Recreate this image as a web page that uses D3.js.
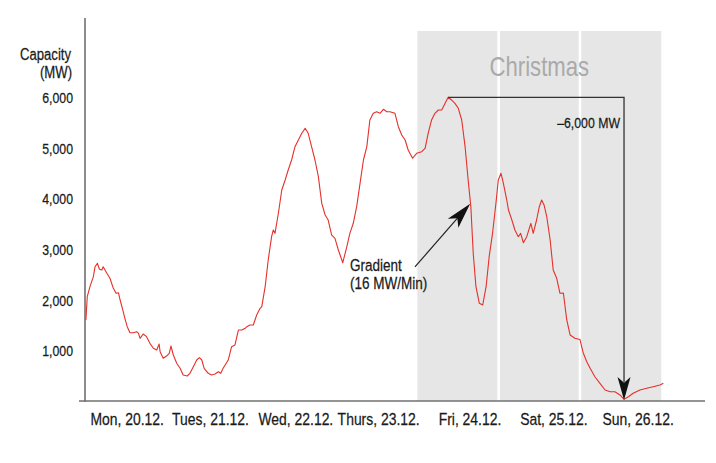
<!DOCTYPE html>
<html><head><meta charset="utf-8">
<script src="https://cdn.jsdelivr.net/npm/d3@7"></script>
<style>
body{margin:0;background:#fff;}
svg text{font-family:"Liberation Sans",Arial,sans-serif;fill:#1a1a1a;}
</style></head>
<body><svg id="c" width="716" height="463"></svg>
<script>
// ---- data (hours since Mon 20.12. 00:00, capacity in MW) ----
const dayLabels = ["Mon, 20.12.","Tues, 21.12.","Wed, 22.12.","Thurs, 23.12.","Fri, 24.12.","Sat, 25.12.","Sun, 26.12."];
const yTicks = [1000,2000,3000,4000,5000,6000];
const hours = [-1.8,-1.4,-0.6,0.4,0.9,1.6,2.2,2.9,3.3,4.3,5.3,6.3,7.1,7.8,8.3,9.1,9.7,10.4,11.2,12.2,13.2,13.7,14.2,15.1,16.1,17.1,18.1,19.1,19.8,20.1,21.0,22.0,22.8,23.3,24.0,25.0,26.0,26.9,28.1,28.9,29.9,30.9,31.7,32.4,33.1,34.3,35.3,36.3,37.3,38.0,38.7,40.2,41.2,42.2,43.2,44.2,45.2,45.7,46.6,47.6,48.6,49.6,
50.1,51.1,52.0,53.0,53.5,54.0,55.0,56.0,57.0,57.9,58.9,59.9,60.9,61.9,62.9,63.8,64.8,65.8,66.8,67.8,68.8,69.7,70.7,71.7,72.7,74.0,75.2,76.1,77.1,78.1,79.1,80.1,81.1,82.0,83.0,84.0,85.0,86.0,87.0,87.9,89.4,90.4,91.4,92.4,93.3,94.6,
95.8,97.3,98.3,99.2,100.2,101.2,102.2,103.2,104.2,105.1,106.1,107.1,108.1,109.1,110.1,111.0,111.8,112.5,113.3,114.3,115.3,116.3,117.2,118.2,119.2,119.9,120.7,121.4,122.4,122.9,123.9,124.8,125.8,126.5,127.3,128.3,129.5,130.2,131.2,132.0,132.7,133.4,134.2,135.2,136.1,137.1,138.1,139.1,140.1,141.1,142.5,144.0,145.0,146.0,147.0,148.4,149.9,151.4,152.9,154.3,155.8,157.0,158.3,159.7,161.7,163.7,165.6,167.6,168.6];
const capacityMW = [1601,2061,2259,2457,2654,2721,2603,2589,2654,2536,2425,2227,2128,2140,1996,1798,1634,1468,1350,1350,1370,1338,1239,1324,1271,1140,1042,1008,1126,974,844,889,943,1087,909,745,646,514,494,547,678,810,856,810,646,547,514,534,579,547,646,810,1073,1107,1403,1403,1437,1468,1502,1502,1700,1832,
1864,2259,2787,3247,3380,3314,3710,4170,4368,4565,4763,5026,5158,5291,5389,5291,5026,4763,4433,3907,3676,3577,3281,3215,2984,2733,3049,3314,3512,3840,4302,4763,5026,5553,5686,5717,5686,5765,5717,5717,5686,5421,5257,5158,4961,4797,
4895,4927,4994,5291,5553,5686,5751,5751,5883,6002,5949,5883,5785,5553,5026,4368,3840,2919,2259,1931,1897,2259,2852,3314,3907,4368,4500,4302,3972,3775,3577,3380,3247,3314,3128,3247,3512,3314,3577,3840,3972,3874,3642,3182,2589,2431,2128,2134,1601,1304,1239,1215,943,777,646,480,350,217,184,184,119,34,85,152,217,251,283,316,350];
const christmasDays = [4,5,6]; // Fri, Sat, Sun
const dropMW = -6000;
const gradientText = ["Gradient","(16 MW/Min)"];

const SX = 0.82; // horizontal condensing of the font
const svg = d3.select("#c");
const x = d3.scaleLinear().domain([0,168]).range([92,661.3]);
const y = d3.scaleLinear().domain([0,6000]).range([401,97.4]);

function label(px, py, str, size, anchor, color){
  return svg.append("text").attr("transform",`translate(${px},${py}) scale(${SX},1)`)
    .attr("text-anchor",anchor||"start").style("font-size",size+"px")
    .style("fill",color||"#1a1a1a").style("stroke",color||"#1a1a1a").style("stroke-width",0.25)
    .text(str);
}

// Christmas shading
svg.append("g").selectAll("rect").data(christmasDays).join("rect")
  .attr("x", d=>x(d*24)).attr("width", d=>x(d*24+24)-x(d*24))
  .attr("y", 31).attr("height", 401-31).attr("fill","#e6e6e6");
svg.append("g").selectAll("line").data(christmasDays.slice(1)).join("line")
  .attr("x1", d=>x(d*24)).attr("x2", d=>x(d*24)).attr("y1",31).attr("y2",401)
  .attr("stroke","#fff").attr("stroke-width",2.5);
label((x(96)+x(168))/2, 76, "Christmas", 27, "middle", "#aaaaaa").style("stroke","none");

// axes
svg.append("line").attr("x1",85).attr("x2",85).attr("y1",18).attr("y2",402)
  .attr("stroke","#707070").attr("stroke-width",1.6);
svg.append("line").attr("x1",79).attr("x2",705).attr("y1",401).attr("y2",401)
  .attr("stroke","#707070").attr("stroke-width",1.6);

const yAxis = d3.axisLeft(y).tickValues(yTicks).tickFormat(d3.format(",")).tickSize(0).tickPadding(0);
const gy = svg.append("g").attr("transform","translate(73,0)").call(yAxis);
gy.select(".domain").remove();
gy.selectAll("text").attr("x",0).style("font-size","15px").style("fill","#1a1a1a")
  .style("stroke","#1a1a1a").style("stroke-width",0.25).attr("dy","0.35em")
  .attr("transform",`scale(${SX},1)`);

label(71, 60, "Capacity", 16, "end");
label(72, 78, "(MW)", 16, "end");

// day labels
const labelShift = [-6,-4,0,1.5,11.5,14,17];
const xAxis = d3.axisBottom(x).tickValues(d3.range(7).map(i=>i*24+12))
  .tickFormat((d,i)=>dayLabels[i]).tickSize(0).tickPadding(0);
const gx = svg.append("g").attr("transform","translate(0,413)").call(xAxis);
gx.select(".domain").remove();
gx.selectAll("text").style("font-size","17px").style("fill","#1a1a1a")
  .style("stroke","#1a1a1a").style("stroke-width",0.25)
  .attr("dx",(d,i)=>labelShift[i]/SX).attr("dy","0.71em").attr("transform",`scale(${SX},1)`);

// series
const pts = hours.map((h,i)=>[h,capacityMW[i]]);
svg.append("path").datum(pts)
  .attr("d", d3.line().x(d=>x(d[0])).y(d=>y(d[1])))
  .attr("fill","none").attr("stroke","#e4312b").attr("stroke-width",1.1).attr("stroke-linejoin","round");

// -6000 MW annotation
const peakH = 105.1, lowH = 157.0;
const topY = y(6000), tipY = y(6000+dropMW)-1;
svg.append("path").attr("d",`M${x(peakH)},${topY}H${x(lowH)}V${tipY-18}`)
  .attr("fill","none").attr("stroke","#333").attr("stroke-width",1.3);
function arrowHead(tx,ty,ang,len,w){
  const c=Math.cos(ang), s=Math.sin(ang);
  const bx=tx-len*c, by=ty-len*s;
  const nx=-s, ny=c;
  const mx=tx-len*0.75*c, my=ty-len*0.75*s;
  return `M${tx},${ty}L${bx+nx*w/2},${by+ny*w/2}L${mx},${my}L${bx-nx*w/2},${by-ny*w/2}Z`;
}
svg.append("path").attr("d",arrowHead(x(lowH),tipY,Math.PI/2,23,13)).attr("fill","#111");
label(x(lowH)-4, 128, "\u20136,000 MW", 15, "end");

// gradient annotation
const gx0 = x(95.3), gy0 = y(2650), gx1 = x(111.6), gy1 = y(3900);
const ang = Math.atan2(gy1-gy0, gx1-gx0);
svg.append("line").attr("x1",gx0).attr("y1",gy0).attr("x2",gx1-18*Math.cos(ang)).attr("y2",gy1-18*Math.sin(ang))
  .attr("stroke","#222").attr("stroke-width",1.2);
svg.append("path").attr("d",arrowHead(gx1,gy1,ang,26,14)).attr("fill","#111");
label(350, 271, gradientText[0], 16.5);
label(350, 289, gradientText[1], 16.5);
</script></body></html>
